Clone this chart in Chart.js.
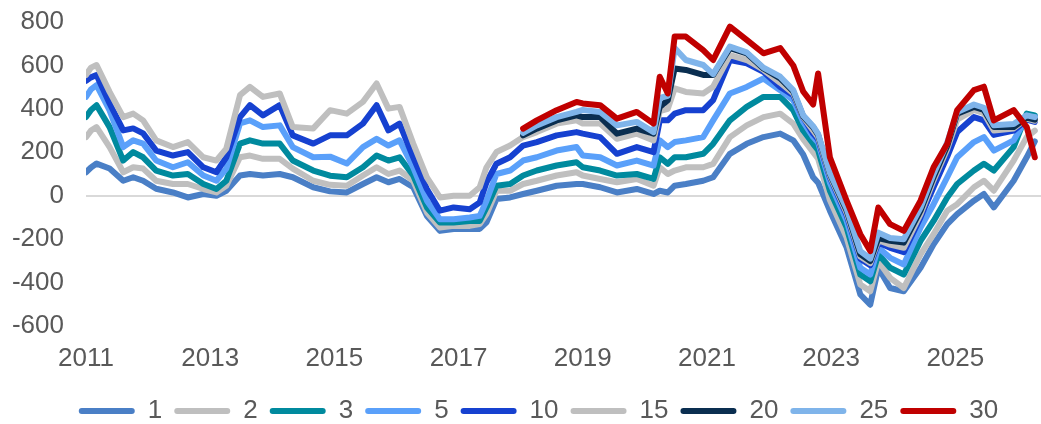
<!DOCTYPE html>
<html>
<head>
<meta charset="utf-8">
<script src="https://cdn.jsdelivr.net/npm/chart.js@4/dist/chart.umd.min.js"></script>
<style>
    html, body { margin: 0; padding: 0; background: #fff; }
    #wrap { width: 1041px; height: 424px; }
</style>
</head>
<body>
<div id="wrap"><canvas id="canvas"></canvas></div>
<script>

// dates as decimal years
var dates = [2011.00, 2011.08, 2011.17, 2011.38, 2011.60, 2011.76, 2011.92, 2012.13, 2012.40, 2012.64,
    2012.89, 2013.10, 2013.26, 2013.48, 2013.64, 2013.85, 2014.12, 2014.33, 2014.66, 2014.93,
    2015.20, 2015.46, 2015.68, 2015.87, 2016.05, 2016.27, 2016.49, 2016.70, 2016.92, 2017.18,
    2017.34, 2017.45, 2017.61, 2017.83, 2018.04, 2018.26, 2018.58, 2018.90, 2019.00, 2019.28,
    2019.55, 2019.87, 2020.14, 2020.24, 2020.37, 2020.48, 2020.66, 2020.94, 2021.10, 2021.37,
    2021.64, 2021.91, 2022.18, 2022.39, 2022.55, 2022.71, 2022.79, 2022.98, 2023.25, 2023.47,
    2023.63, 2023.76, 2023.95, 2024.17, 2024.44, 2024.65, 2024.87, 2025.03, 2025.30, 2025.46,
    2025.62, 2025.94, 2026.15, 2026.28];

var s1 = [108, 130, 148, 125, 69, 85, 69, 32, 15, -8,
    8, 0, 23, 93, 100, 93, 100, 85, 39, 20,
    15, 54, 85, 62, 77, 39, -93, -162, -153, -153,
    -153, -123, -15, -8, 8, 23, 46, 54, 54, 39,
    15, 31, 8, 23, 15, 46, 54, 69, 85, 193,
    239, 270, 286, 255, 190, 85, 60, -69, -239, -455,
    -502, -332, -425, -440, -332, -224, -131, -85, -23, 8,
    -54, 69, 177, 250];
var s2 = [270, 300, 316, 224, 108, 131, 125, 69, 54, 54,
    31, 15, 46, 177, 185, 170, 170, 125, 69, 50,
    46, 93, 131, 100, 116, 69, -77, -147, -139, -139,
    -131, -85, 23, 23, 54, 69, 93, 108, 93, 77,
    62, 77, 46, 131, 100, 116, 131, 131, 147, 270,
    324, 362, 378, 332, 260, 200, 170, -20, -193, -409,
    -440, -301, -378, -425, -270, -177, -69, -39, 39, 69,
    23, 162, 270, 300];
var s3 = [362, 395, 417, 316, 162, 201, 177, 116, 93, 100,
    54, 31, 69, 240, 255, 240, 240, 162, 116, 92,
    85, 131, 185, 162, 177, 93, -54, -123, -123, -116,
    -116, -54, 46, 54, 93, 116, 139, 154, 131, 116,
    93, 100, 77, 177, 147, 177, 177, 193, 239, 347,
    409, 455, 455, 394, 300, 239, 210, 23, -147, -363,
    -394, -270, -332, -363, -208, -116, -8, 54, 116, 147,
    116, 224, 378, 370];
var s5 = [455, 490, 509, 393, 224, 255, 240, 162, 131, 154,
    93, 69, 125, 333, 347, 316, 324, 224, 177, 180,
    148, 224, 262, 231, 255, 131, -23, -108, -108, -100,
    -93, -23, 100, 116, 162, 177, 208, 224, 185, 177,
    139, 162, 139, 255, 224, 247, 255, 270, 347, 471,
    501, 540, 486, 440, 340, 270, 245, 60, -116, -332,
    -363, -239, -286, -317, -147, -39, 85, 177, 247, 270,
    208, 255, 360, 362];
var s10 = [529, 545, 556, 425, 301, 310, 287, 208, 185, 201,
    131, 108, 177, 362, 417, 370, 417, 278, 240, 278,
    278, 332, 417, 301, 332, 177, 31, -69, -54, -62,
    -31, 62, 147, 177, 231, 247, 278, 293, 286, 270,
    193, 224, 201, 347, 347, 378, 394, 394, 440, 625,
    610, 571, 501, 463, 360, 286, 260, 85, -90, -290,
    -320, -215, -240, -260, -100, 40, 180, 293, 362, 347,
    280, 300, 350, 340];
var s15 = [556, 590, 602, 478, 362, 378, 347, 255, 224, 247,
    177, 162, 217, 463, 501, 455, 471, 316, 310, 394,
    378, 432, 517, 401, 409, 240, 85, -8, 0, 0,
    39, 131, 201, 231, 270, 293, 332, 347, 332, 332,
    262, 286, 255, 390, 400, 494, 478, 471, 502, 648,
    625, 580, 520, 471, 362, 300, 270, 92, -80, -280,
    -310, -205, -225, -240, -85, 70, 215, 350, 395, 380,
    300, 310, 355, 345];
var s20 = [null, null, null, null, null, null, null, null, null, null,
    null, null, null, null, null, null, null, null, null, null,
    null, null, null, null, null, null, null, null, null, null,
    null, null, null, null, 278, 309, 347, 370, 362, 362,
    286, 309, 286, 409, 440, 586, 579, 556, 556, 680,
    656, 586, 540, 480, 365, 316, 280, 100, -69, -270,
    -301, -195, -208, -216, -69, 85, 230, 378, 409, 395,
    316, 316, 360, 350];
var s25 = [null, null, null, null, null, null, null, null, null, null,
    null, null, null, null, null, null, null, null, null, null,
    null, null, null, null, null, null, null, null, null, null,
    null, null, null, null, 290, 324, 362, 386, 395, 386,
    324, 340, 293, 450, 460, 680, 625, 602, 560, 687,
    660, 590, 548, 486, 370, 320, 285, 105, -60, -255,
    -290, -170, -195, -200, -55, 100, 245, 385, 420, 405,
    325, 330, 370, 362];
var s30 = [null, null, null, null, null, null, null, null, null, null,
    null, null, null, null, null, null, null, null, null, null,
    null, null, null, null, null, null, null, null, null, null,
    null, null, null, null, 309, 347, 394, 432, 425, 417,
    355, 386, 332, 548, 471, 733, 733, 671, 625, 779,
    718, 656, 680, 600, 480, 420, 563, 177, -23, -177,
    -255, -54, -131, -162, -23, 131, 239, 394, 486, 502,
    347, 394, 316, 177];

var seriesNames = ['1', '2', '3', '5', '10', '15', '20', '25', '30'];
var seriesData = [s1, s2, s3, s5, s10, s15, s20, s25, s30];
var colors = ['#4a7fc6', '#bfbfbf', '#008a9e', '#5aa0fa', '#1641d0', '#bfbfbf', '#0a2e50', '#7fb4ea', '#c00000'];

var yTicks = [-600, -400, -200, 0, 200, 400, 600, 800];
var xTicks = [2011, 2013, 2015, 2017, 2019, 2021, 2023, 2025];

var datasets = [];
for (var i = 0; i < seriesNames.length; i++) {
    var pts = [];
    for (var j = 0; j < dates.length; j++) {
        pts.push({x: dates[j], y: seriesData[i][j]});
    }
    datasets.push({
        label: seriesNames[i],
        data: pts,
        borderColor: colors[i],
        backgroundColor: colors[i],
        borderWidth: 6,
        pointRadius: 0,
        tension: 0,
        fill: false,
        borderJoinStyle: 'round',
        borderCapStyle: 'round',
        order: seriesNames.length - i   // later series on top, like the original
    });
}

var fontFam = 'Liberation Sans, Arial, sans-serif';

// legend sits a bit right of the canvas centre in the original
var legendShift = {
    id: 'legendShift',
    afterLayout: function (chart) {
        chart.legend.left += 18;
        chart.legend.right += 18;
    }
};

var ctx = document.getElementById('canvas').getContext('2d');
window.myLine = new Chart(ctx, {
    type: 'line',
    data: {datasets: datasets},
    plugins: [legendShift],
    options: {
        responsive: true,
        maintainAspectRatio: false,
        animation: false,
        layout: {
            padding: {left: 0, right: 0, top: 22, bottom: -10}
        },
        plugins: {
            legend: {
                position: 'bottom',
                labels: {
                    color: '#595959',
                    font: {family: fontFam, size: 26},
                    boxWidth: 56,
                    boxHeight: 6,
                    useBorderRadius: true,
                    borderRadius: 3,
                    padding: 12,
                    generateLabels: function (chart) {
                        var items = Chart.defaults.plugins.legend.labels.generateLabels(chart);
                        items.forEach(function (it) { it.lineWidth = 0; });
                        return items;
                    },
                    sort: function (a, b) { return a.datasetIndex - b.datasetIndex; }
                }
            },
            tooltip: {enabled: false}
        },
        scales: {
            x: {
                type: 'linear',
                min: 2011,
                max: 2026.38,
                afterBuildTicks: function (axis) {
                    axis.ticks = xTicks.map(function (v) { return {value: v}; });
                },
                afterFit: function (axis) { axis.height = 60; },
                grid: {display: false, drawTicks: false},
                border: {display: false},
                ticks: {
                    color: '#595959',
                    font: {family: fontFam, size: 26},
                    padding: 17,
                    maxRotation: 0,
                    callback: function (v) { return String(v); }
                }
            },
            y: {
                min: -600,
                max: 800,
                afterBuildTicks: function (axis) {
                    axis.ticks = yTicks.map(function (v) { return {value: v}; });
                },
                afterFit: function (axis) {
                    axis.width = 86;
                    axis.paddingTop = 0;
                    axis.paddingBottom = 0;
                },
                grid: {
                    drawTicks: false,
                    lineWidth: 2,
                    color: function (c) { return c.tick && c.tick.value === 0 ? '#d9d9d9' : 'rgba(0,0,0,0)'; }
                },
                border: {display: false},
                ticks: {
                    color: '#595959',
                    font: {family: fontFam, size: 26},
                    padding: 22
                }
            }
        }
    }
});

</script>
</body>
</html>
